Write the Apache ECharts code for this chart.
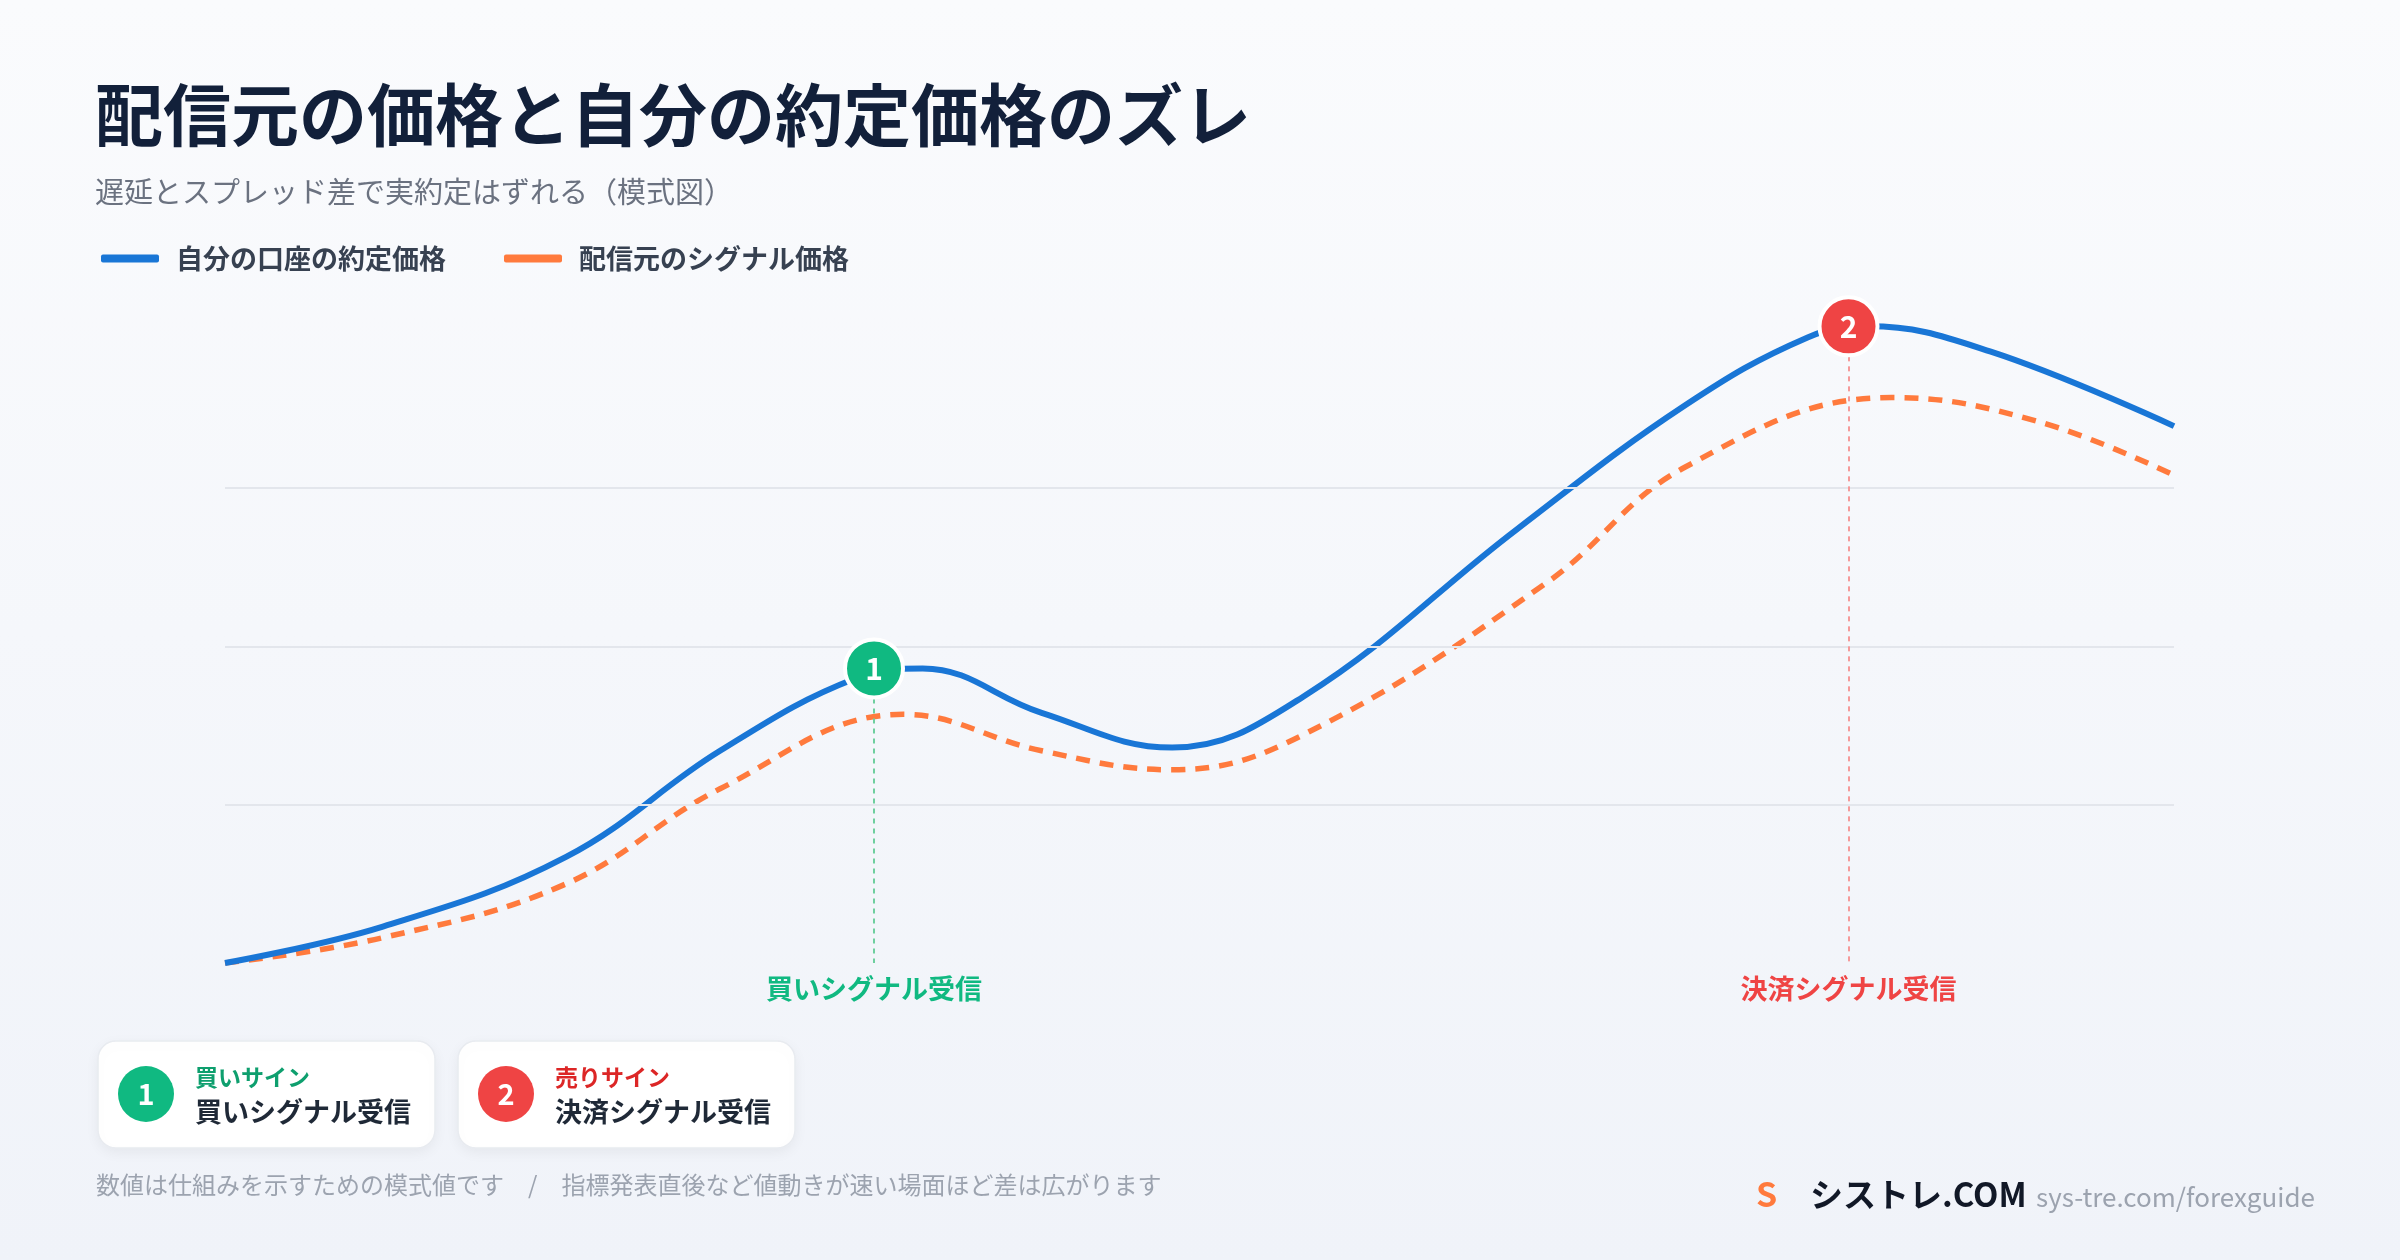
<!DOCTYPE html>
<html><head><meta charset="utf-8">
<script src="https://cdn.jsdelivr.net/npm/echarts@6/dist/echarts.min.js"></script>
<style>html,body{margin:0;padding:0}#c{width:2400px;height:1260px;background:linear-gradient(180deg,#fafbfd 0%,#f0f3f9 100%)}</style>
</head><body><div id="c"></div>
<script>
const seriesNames = ['自分の口座の約定価格', '配信元のシグナル価格'];
const ownPrice = [[0,0],[8.1,0.23],[17.5,0.67],[25.4,1.34],[32.4,1.8],[35.8,1.86],[41.9,1.58],[48.6,1.36],[55.3,1.68],[66.3,2.74],[74.9,3.52],[81.2,3.95],[84.3,4.02],[90.6,3.86],[100,3.39]];
const signalPrice = [[0,0],[8.1,0.16],[17.5,0.5],[25.4,1.1],[34.8,1.57],[41.9,1.34],[48.6,1.22],[55.3,1.44],[67.8,2.4],[74.9,3.13],[85.5,3.57],[93,3.42],[100,3.08]];
const signals = [{x:33.3,y:1.86,num:'1',label:'買いシグナル受信',color:'#10b981',line:'#6fcf9f'},{x:83.3,y:4.02,num:'2',label:'決済シグナル受信',color:'#ef4444',line:'#f59a9a'}];
const gridValues = [1,2,3];
const F = '"Noto Sans CJK JP", "Noto Sans", sans-serif';
const chart = echarts.init(document.getElementById('c'));
chart.setOption({
  textStyle:{fontFamily:F},
  animation:false,
  title:{text:'配信元の価格と自分の約定価格のズレ',subtext:'遅延とスプレッド差で実約定はずれる（模式図）',left:90,top:76,itemGap:28,
    textStyle:{fontSize:68,fontWeight:'bold',color:'#12203a',fontFamily:F},subtextStyle:{fontSize:29,color:'#6b7280',fontFamily:F}},
  legend:{left:96,top:240,icon:'roundRect',itemWidth:58,itemHeight:8,itemGap:58,textStyle:{fontSize:27,fontWeight:'bold',color:'#374151',padding:[0,0,0,12]},
    data:seriesNames},
  grid:{left:225,right:226,top:282,bottom:297},
  xAxis:{type:'value',min:0,max:100,show:false},
  yAxis:{type:'value',min:0,max:4.3,show:false},
  series:[
    {name:seriesNames[0],type:'line',smooth:0.4,symbol:'none',data:ownPrice,color:'#1976d6',lineStyle:{width:6,color:'#1976d6'},z:4,
      markLine:{silent:true,symbol:'none',label:{show:false},lineStyle:{type:'solid',color:'#e3e6ec',width:2},data:gridValues.map(v=>({yAxis:v}))}},
    {name:seriesNames[1],type:'line',smooth:0.4,symbol:'none',data:signalPrice,color:'#ff7a3d',lineStyle:{width:5.5,color:'#ff7a3d',type:[14,10]},z:3,
      markLine:{silent:true,symbol:'none',label:{show:false},data:signals.map(s=>[{coord:[s.x,s.y],lineStyle:{color:s.line,type:[5,5],width:2}},{coord:[s.x,0]}])}},
    {type:'scatter',z:6,symbolSize:58,data:signals.map(s=>({value:[s.x,s.y],itemStyle:{color:s.color,opacity:1,borderColor:'#fff',borderWidth:4},label:{show:true,formatter:s.num,color:'#fff',fontSize:30,fontWeight:'bold'}}))}
  ]
});
const g = [];
signals.forEach(s=>{const p=chart.convertToPixel({gridIndex:0},[s.x,0]);
  g.push({type:'text',x:p[0],y:p[1]+26,style:{text:s.label,fill:s.color,font:'bold 27px '+F,textAlign:'center',textVerticalAlign:'middle'}});});
const cards=[{x:98,title:'買いサイン',tcolor:'#0e9f6e',sub:'買いシグナル受信',num:'1',c:'#10b981'},{x:458,title:'売りサイン',tcolor:'#dc2626',sub:'決済シグナル受信',num:'2',c:'#ef4444'}];
cards.forEach(c=>{
  g.push({type:'rect',shape:{x:c.x,y:1041,width:337,height:107,r:18},style:{fill:'#fff',stroke:'#e8ebf0',lineWidth:1.5,shadowBlur:14,shadowColor:'rgba(0,0,0,0.06)',shadowOffsetY:4}});
  g.push({type:'circle',shape:{cx:c.x+48,cy:1094,r:28},style:{fill:c.c}});
  g.push({type:'text',x:c.x+48,y:1094,style:{text:c.num,fill:'#fff',font:'bold 29px '+F,textAlign:'center',textVerticalAlign:'middle'}});
  g.push({type:'text',x:c.x+97,y:1077,style:{text:c.title,fill:c.tcolor,font:'bold 23px '+F,textVerticalAlign:'middle'}});
  g.push({type:'text',x:c.x+97,y:1112,style:{text:c.sub,fill:'#1f2937',font:'bold 27px '+F,textVerticalAlign:'middle'}});
});
g.push({type:'text',x:96,y:1185,style:{text:'数値は仕組みを示すための模式値です　/　指標発表直後など値動きが速い場面ほど差は広がります',fill:'#9ca3af',font:'24px '+F,textVerticalAlign:'middle'}});
g.push({type:'text',x:1756,y:1194,style:{text:'S',fill:'#ff7a3d',font:'bold 34px '+F,textVerticalAlign:'middle'}});
g.push({type:'text',x:1810,y:1194,style:{text:'シストレ.COM',fill:'#111827',font:'bold 33px '+F,textVerticalAlign:'middle'}});
g.push({type:'text',x:2036,y:1197,style:{text:'sys-tre.com/forexguide',fill:'#9ca3af',font:'26px '+F,textVerticalAlign:'middle'}});
chart.setOption({graphic:g});
</script></body></html>
